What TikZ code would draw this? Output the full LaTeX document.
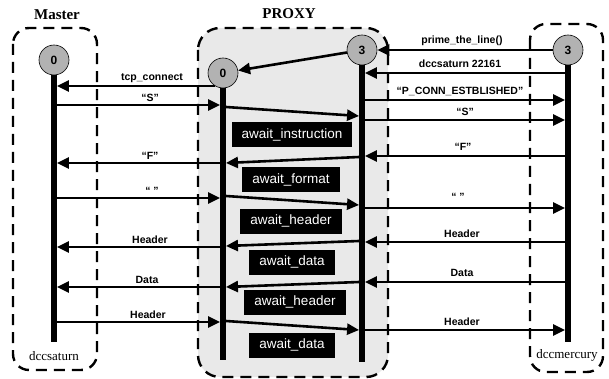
\documentclass[tikz,border=0pt]{standalone}
\usepackage{fontspec}
\setmainfont{Liberation Serif}
\setsansfont{Liberation Sans}
\usetikzlibrary{arrows.meta}
\begin{document}
\begin{tikzpicture}[x=1pt,y=-1pt,
  frame/.style={draw, line width=2.4pt, dash pattern=on 11pt off 7pt, rounded corners=16pt},
  lifeline/.style={fill=black, inner sep=0pt, minimum width=5.5pt},
  proc/.style={circle, draw=black, line width=0.6pt, fill=gray!60, minimum size=30pt, inner sep=0pt, font=\sffamily\bfseries\fontsize{12}{12}\selectfont},
  msg/.style={line width=2.6pt, -{Triangle[length=12pt,width=11pt]}},
  lbl/.style={font=\sffamily\bfseries\fontsize{10.5}{12}\selectfont, anchor=south, inner sep=0pt},
  statebox/.style={fill=black, text=white, font=\sffamily\fontsize{13.5}{15}\selectfont, minimum height=25pt, inner xsep=10pt, inner ysep=0pt},
  title/.style={font=\bfseries\fontsize{15}{17}\selectfont},
  host/.style={font=\fontsize{13}{15}\selectfont}
]
\useasboundingbox (0,0) rectangle (609,379);
% frames
\draw[frame] (13,28) rectangle (97,370);
\draw[frame, fill=gray!17, rounded corners=22pt] (198,28) rectangle (388,377);
\draw[frame] (530,24) rectangle (603,372);
% titles
\node[title] (tM) at (57,15) {Master};
\node[title] (tP) at (289,14) {PROXY};
\node[host] (hS) at (54,356) {dccsaturn};
\node[host] (hM) at (567,355) {dccmercury};
% lifelines
\node[lifeline, minimum height=282pt] (ML) at (54,201) {};
\node[lifeline, minimum height=287pt] (P0L) at (223,216.5) {};
\node[lifeline, minimum height=312pt] (P3L) at (362,206) {};
\node[lifeline, minimum height=291pt] (MQL) at (568,196.5) {};
% state boxes
\node[statebox] (s1) at (292,135) {await\_instruction};
\node[statebox] (s2) at (291,180) {await\_format};
\node[statebox] (s3) at (291,221) {await\_header};
\node[statebox] (s4) at (292,262) {await\_data};
\node[statebox] (s5) at (295,302) {await\_header};
\node[statebox] (s6) at (292,345) {await\_data};
% process circles
\node[proc] (M) at (54,60) {0};
\node[proc] (P0) at (223,73) {0};
\node[proc] (P3) at (362,50) {3};
\node[proc] (MQ) at (568,50) {3};
% messages left
\draw[msg] (P0) ++(-8,13) coordinate (a1) (a1) -- (ML.east |- a1);
\draw[msg] (ML.east |- 0,105) -- (P0L.west |- 0,105);
\draw[msg] (P0L.west |- 0,163) -- (ML.east |- 0,163);
\draw[msg] (ML.east |- 0,198) -- (P0L.west |- 0,198);
\draw[msg] (P0L.west |- 0,247) -- (ML.east |- 0,247);
\draw[msg] (P0L.west |- 0,287) -- (ML.east |- 0,287);
\draw[msg] (ML.east |- 0,322) -- (P0L.west |- 0,322);
\node[lbl] (l1) at (152,83) {tcp\_connect};
\node[lbl] (l2) at (150,102) {“S”};
\node[lbl] (l3) at (150,160) {“F”};
\node[lbl] (l4) at (152,195) {“ ”};
\node[lbl] (l5) at (150,244) {Header};
\node[lbl] (l6) at (147,284) {Data};
\node[lbl] (l7) at (148,319) {Header};
% messages middle
\draw[msg] (P3) -- (P0);
\draw[msg] (P0L.east |- 0,107) -- (P3L.west |- 0,116);
\draw[msg] (P3L.west |- 0,157) -- (P0L.east |- 0,163);
\draw[msg] (P0L.east |- 0,196) -- (P3L.west |- 0,205);
\draw[msg] (P3L.west |- 0,241) -- (P0L.east |- 0,246);
\draw[msg] (P3L.west |- 0,282) -- (P0L.east |- 0,287);
\draw[msg] (P0L.east |- 0,321) -- (P3L.west |- 0,330);
% messages right
\draw[msg] (MQ) -- (P3);
\draw[msg] (MQL.west |- 0,73) -- (P3L.east |- 0,73);
\draw[msg] (P3L.east |- 0,100) -- (MQL.west |- 0,100);
\draw[msg] (P3L.east |- 0,120) -- (MQL.west |- 0,120);
\draw[msg] (MQL.west |- 0,156) -- (P3L.east |- 0,156);
\draw[msg] (P3L.east |- 0,208) -- (MQL.west |- 0,208);
\draw[msg] (MQL.west |- 0,242) -- (P3L.east |- 0,242);
\draw[msg] (MQL.west |- 0,282) -- (P3L.east |- 0,282);
\draw[msg] (P3L.east |- 0,330) -- (MQL.west |- 0,330);
\node[lbl] (r1) at (462,46) {prime\_the\_line()};
\node[lbl] (r2) at (460,68) {dccsaturn 22161};
\node[lbl] (r3) at (460,96) {“P\_CONN\_ESTBLISHED”};
\node[lbl] (r4) at (465,116) {“S”};
\node[lbl] (r5) at (463,151) {“F”};
\node[lbl] (r6) at (458,201) {“ ”};
\node[lbl] (r7) at (462,238) {Header};
\node[lbl] (r8) at (462,277) {Data};
\node[lbl] (r9) at (462,326) {Header};
\end{tikzpicture}
\end{document}
